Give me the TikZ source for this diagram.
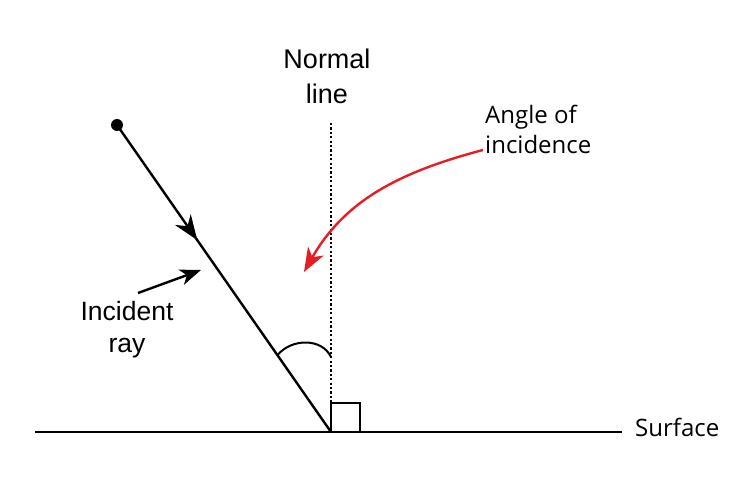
\documentclass[tikz,border=0pt]{standalone}
\usepackage{fontspec}
\setmainfont{Liberation Sans}
\newfontfamily\myriadlike{Open Sans}
\usetikzlibrary{arrows.meta,decorations.markings}
\definecolor{arrowred}{RGB}{232,28,36}
\tikzset{
  thickline/.style={line width=2.4pt, black},
  dottedline/.style={line width=2.4pt, dash pattern=on 2.2pt off 2.2pt},
  labelA/.style={inner sep=0pt, align=center},
  labelB/.style={inner sep=0pt, font=\myriadlike\fontsize{24}{30}\selectfont, align=left},
}
\begin{document}
\begin{tikzpicture}[x=1pt,y=-1pt]
\useasboundingbox (0,0) rectangle (750,500);
% coordinates
\coordinate (src) at (117,125);
\coordinate (hit) at (331,432);
\coordinate (ntop) at (331,123);
\coordinate (sl) at (35,432);
\coordinate (sr) at (622,432);
\coordinate (arcA) at (277.5,355);
\coordinate (arcB) at (331,357);
% surface
\draw[thickline] (sl) -- (sr);
% normal line
\draw[dottedline] (ntop) -- (hit);
% right angle square
\draw[line width=2pt] (hit) rectangle (360,403);
% incident ray
\draw[thickline, postaction={decorate},
  decoration={markings, mark=at position 0.375 with {\arrow{Stealth[length=25pt,width=19pt,inset=8pt]}}}]
  (src) -- (hit);
\fill (src) circle (6);
% angle arc
\draw[line width=2pt] (arcA) .. controls (292,338) and (322,338) .. (arcB);
% labels
\node[labelA, font=\fontsize{27}{35}\selectfont, anchor=north] (normal) at (327,48.5) {Normal\\line};
\node[labelA, font=\fontsize{26.5}{32}\selectfont, anchor=north] (incident) at (127,301.5) {Incident\\ray};
\node[labelB, anchor=north west] (aoi) at (485,104.5) {Angle of\\incidence};
\node[inner sep=0pt, font=\myriadlike\fontsize{24}{30}\selectfont, anchor=base west] (surf) at (635,436) {Surface};
% pointer arrows
\coordinate (incA) at (138,293);
\coordinate (incB) at (201,270);
\draw[line width=2.4pt, -{Stealth[length=21pt,width=16pt,inset=6pt]}] (incA) -- (incB);
\coordinate (redA) at (483,150);
\coordinate (redB) at (304,272);
\draw[arrowred, line width=2.4pt, -{Stealth[length=24pt,width=18pt,inset=7pt]}]
  (redA) .. controls (400,172) and (345,200) .. (redB);
\end{tikzpicture}
\end{document}
